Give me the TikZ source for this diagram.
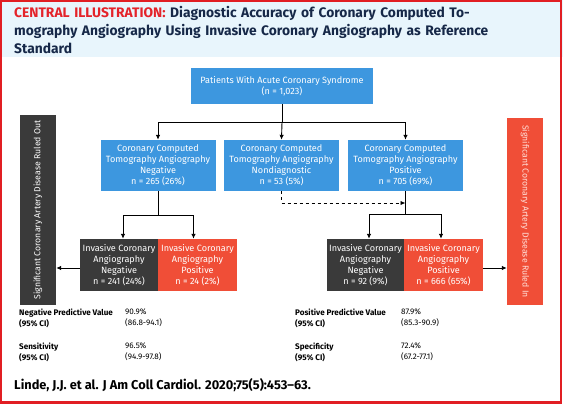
\documentclass[tikz,border=0pt]{standalone}
\usepackage{fontspec}
\setmainfont{Fira Sans}
\usepackage{tikz}
\usetikzlibrary{arrows.meta}
\usepackage{xcolor}
\definecolor{ctblue}{RGB}{61,151,223}
\definecolor{icadark}{RGB}{58,58,58}
\definecolor{icared}{RGB}{240,78,55}
\definecolor{headerblue}{RGB}{232,245,252}
\definecolor{titlered}{RGB}{228,35,42}
\definecolor{titlenavy}{RGB}{22,40,72}
\definecolor{borderred}{RGB}{225,30,35}
\definecolor{barpink}{RGB}{255,222,215}
\tikzset{
    flowbox/.style={
        rectangle,
        text=white,
        align=center,
        inner sep=1pt,
        font=\fontsize{9.1}{11}\selectfont
    },
    ctbox/.style={
        flowbox,
        fill=ctblue,
        minimum width=115pt,
        minimum height=51pt
    },
    icaneg/.style={
        flowbox,
        fill=icadark,
        minimum width=78pt,
        minimum height=52pt
    },
    icapos/.style={
        flowbox,
        fill=icared,
        minimum width=79pt,
        minimum height=52pt
    },
    sidebar/.style={
        rectangle,
        minimum width=36pt,
        inner sep=0pt,
        font=\fontsize{8.7}{11}\selectfont
    },
    flowline/.style={
        line width=0.9pt,
        -{Latex[length=5pt,width=4.5pt]}
    },
    statlabel/.style={
        anchor=north west,
        align=left,
        inner sep=0pt,
        font=\fontsize{8.1}{10.5}\selectfont\bfseries
    },
    statvalue/.style={
        anchor=north west,
        align=left,
        inner sep=0pt,
        font=\fontsize{8.1}{10.5}\selectfont
    }
}

\begin{document}
\begin{tikzpicture}[x=1pt,y=-1pt]
\useasboundingbox (0,0) rectangle (563,404);

% ---------------------------------------------------------
% Frame and title
% ---------------------------------------------------------
\fill[headerblue] (0,0) rectangle (563,57);
\draw[borderred,line width=2.4pt] (1.2,1.2) rectangle (561,402.6);

\node[
    anchor=north west,
    align=left,
    inner sep=0pt,
    text width=548pt,
    text=titlenavy,
    font=\fontsize{13.8}{18}\selectfont\bfseries
]
(title) at (14,6)
{\textcolor{titlered}{CENTRAL ILLUSTRATION:} Diagnostic Accuracy of Coronary Computed To-\\
mography Angiography Using Invasive Coronary Angiography as Reference\\
Standard};

% ---------------------------------------------------------
% Boxes
% ---------------------------------------------------------
\node[ctbox, minimum width=182pt, minimum height=36pt]
    (patients) at (282,86)
    {Patients With Acute Coronary Syndrome\\(n = 1,023)};

\node[ctbox] (ctneg) at (158,165.5)
    {Coronary Computed\\Tomography Angiography\\Negative\\n = 265 (26\%)};
\node[ctbox] (ctnd) at (281.5,165.5)
    {Coronary Computed\\Tomography Angiography\\Nondiagnostic\\n = 53 (5\%)};
\node[ctbox] (ctpos) at (405.5,165.5)
    {Coronary Computed\\Tomography Angiography\\Positive\\n = 705 (69\%)};

\node[icaneg] (icaneg1) at (119,265)
    {Invasive Coronary\\Angiography\\Negative\\n = 241 (24\%)};
\node[icapos] (icapos1) at (197.5,265)
    {Invasive Coronary\\Angiography\\Positive\\n = 24 (2\%)};
\node[icaneg, minimum width=77pt] (icaneg2) at (365.5,265)
    {Invasive Coronary\\Angiography\\Negative\\n = 92 (9\%)};
\node[icapos] (icapos2) at (443.5,265)
    {Invasive Coronary\\Angiography\\Positive\\n = 666 (65\%)};

% side bars
\node[sidebar, fill=icadark, text=white, minimum height=190pt]
    (ruledout) at (38,210)
    {\rotatebox{90}{Significant Coronary Artery Disease Ruled Out}};
\node[sidebar, fill=icared, text=barpink, minimum height=187pt]
    (ruledin) at (525,211.5)
    {\rotatebox{-90}{Significant Coronary Artery Disease Ruled In}};

% ---------------------------------------------------------
% Connectors
% ---------------------------------------------------------
\coordinate (split1) at (282,122);
\coordinate (split2) at (158,215);
\coordinate (split3) at (405.5,214);
\coordinate (dashend) at (405.5,203);

\draw[line width=0.9pt] (patients.south) -- (split1);
\draw[flowline] (split1) -| (ctneg.north);
\draw[flowline] (split1) -- (ctnd.north);
\draw[flowline] (split1) -| (ctpos.north);

\draw[line width=0.9pt] (ctneg.south) -- (split2);
\draw[flowline] (split2) -| ([xshift=4pt]icaneg1.north);
\draw[flowline] (split2) -| ([xshift=-4pt]icapos1.north);

\draw[line width=0.9pt] (ctpos.south) -- (split3);
\draw[flowline] (split3) -| ([xshift=3.5pt]icaneg2.north);
\draw[flowline] (split3) -| ([xshift=-2.5pt]icapos2.north);

\draw[flowline, dashed] (ctnd.south) |- (dashend);

\draw[flowline] ([yshift=-3pt]icaneg1.west) -- ([yshift=-3pt]icaneg1.west -| ruledout.east);
\draw[flowline] ([yshift=-3pt]icapos2.east) -- ([yshift=-3pt]icapos2.east -| ruledin.west);

% ---------------------------------------------------------
% Statistics
% ---------------------------------------------------------
\foreach \lbl/\val/\ci/\x/\y [count=\i] in {
    Negative Predictive Value/90.9\%/(86.8-94.1)/19/309,
    Sensitivity/96.5\%/(94.9-97.8)/19/343,
    Positive Predictive Value/87.9\%/(85.3-90.9)/295/309,
    Specificity/72.4\%/(67.2-77.1)/295/343
}
{
    \pgfmathsetmacro{\vx}{\x+106}
    \node[statlabel] (statlabel\i) at (\x,\y) {\lbl\\(95\% CI)};
    \node[statvalue] (statvalue\i) at (\vx,\y) {\val\\\ci};
}

% ---------------------------------------------------------
% Citation
% ---------------------------------------------------------
\node[anchor=west, inner sep=0pt, font=\fontsize{12.8}{14}\selectfont\bfseries]
    (citation) at (14,385)
    {Linde, J.J. et al. J Am Coll Cardiol. 2020;75(5):453--63.};

\end{tikzpicture}
\end{document}
